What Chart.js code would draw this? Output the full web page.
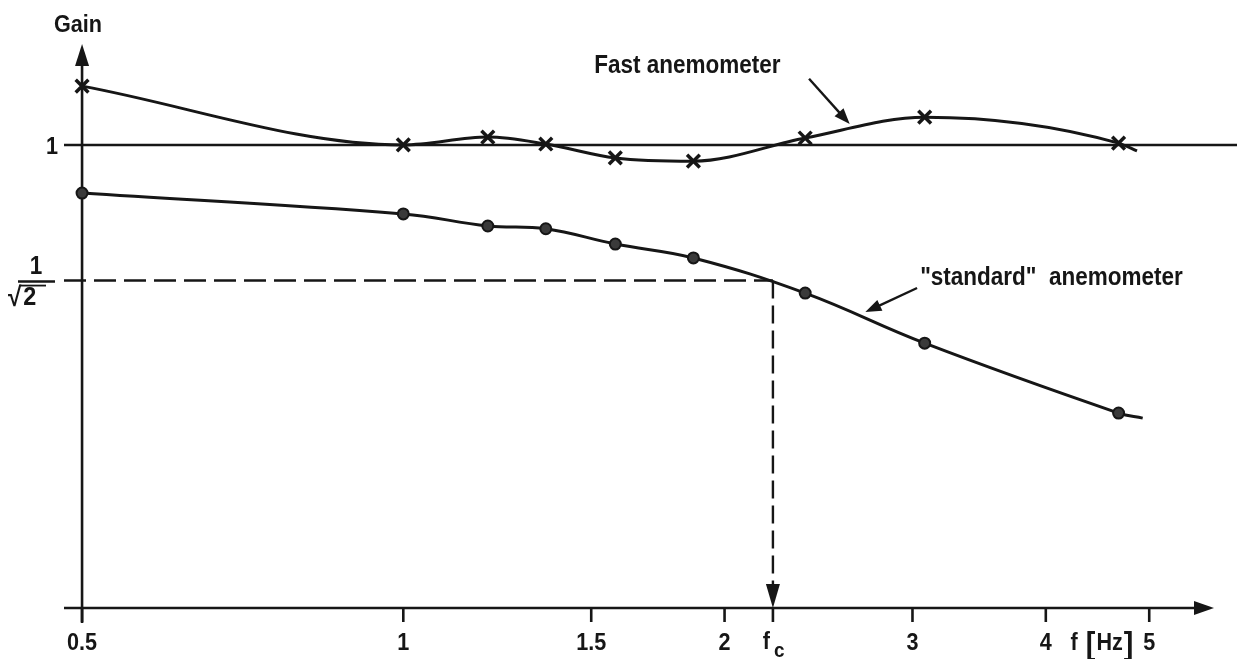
<!DOCTYPE html>
<html>
<head>
<meta charset="utf-8">
<title>Gain vs frequency of two anemometers</title>
<script src="https://cdn.jsdelivr.net/npm/chart.js@4.4.1/dist/chart.umd.min.js"></script>
<style>
  html, body { margin: 0; padding: 0; background: #fff; }
  #wrap { width: 1237px; height: 659px; }
</style>
</head>
<body>
<div id="wrap"><canvas id="gainChart" width="1237" height="659"></canvas></div>
<script>
// measured frequencies (Hz) - both instruments tested at the same points
var freqHz = [0.5, 1.0, 1.2, 1.36, 1.58, 1.87, 2.38, 3.08, 4.68];
var fastGain = [1.127, 1.0, 1.017, 1.002, 0.972, 0.965, 1.015, 1.06, 1.004];
var standardGain = [0.896, 0.851, 0.825, 0.819, 0.786, 0.756, 0.68, 0.572, 0.421];
// hand drawn curves run a little past the last measured point
var fastTail = { x: 4.87, y: 0.987 };
var standardTail = { x: 4.93, y: 0.41 };

// axis ticks
var xTicks = [0.5, 1, 1.5, 2, 3, 4, 5];
var xTickLabels = ['0.5', '1', '1.5', '2', '3', '4', '5'];
var cutoffHz = 2.22;          // f_c
var refGain = 1 / Math.sqrt(2);

var ink = '#161616';
var font = '"Liberation Sans", Arial, sans-serif';

function buildPoints(gains, tail) {
    var pts = freqHz.map(function (f, i) { return { x: f, y: gains[i] }; });
    pts.push(tail);
    return pts;
}

//Draw text a bit condensed, like the original lettering
function say(ctx, text, x, y, size, align) {
    ctx.font = 'bold ' + size + 'px ' + font;
    ctx.textAlign = align || 'left';
    ctx.textBaseline = 'alphabetic';
    var w = ctx.measureText(text).width * 0.9;
    ctx.fillText(text, x, y, w);
    return w;
}

function line(ctx, x1, y1, x2, y2) {
    ctx.beginPath();
    ctx.moveTo(x1, y1);
    ctx.lineTo(x2, y2);
    ctx.stroke();
}

//Filled arrow head with its tip at (tx, ty) pointing along angle a
function arrowHead(ctx, tx, ty, a, len, half) {
    ctx.beginPath();
    ctx.moveTo(tx, ty);
    ctx.lineTo(tx - len * Math.cos(a) + half * Math.sin(a), ty - len * Math.sin(a) - half * Math.cos(a));
    ctx.lineTo(tx - len * Math.cos(a) - half * Math.sin(a), ty - len * Math.sin(a) + half * Math.cos(a));
    ctx.closePath();
    ctx.fill();
}

// labels with pointer arrows, placed in data units (Hz, gain)
var notes = [
    { text: 'Fast anemometer', f: 1.51, g: 1.156, from: [2.40, 1.143], to: [2.62, 1.045] },
    { text: '"standard"  anemometer', f: 3.05, g: 0.698, from: [3.03, 0.691], to: [2.71, 0.639] }
];

const figurePlugin = {
    id: 'figure',
    beforeDatasetsDraw(chart) {
        const ctx = chart.ctx;
        const x = chart.scales.x, y = chart.scales.y;
        const x0 = x.getPixelForValue(freqHz[0]);
        const y0 = y.getPixelForValue(0);
        const y1 = y.getPixelForValue(1);
        const yr = y.getPixelForValue(refGain);
        const xc = x.getPixelForValue(cutoffHz);
        ctx.save();
        ctx.strokeStyle = ink;
        ctx.fillStyle = ink;
        ctx.lineWidth = 2.6;
        ctx.lineCap = 'butt';
        // axes
        line(ctx, x.left, y0, x.right - 10, y0);
        arrowHead(ctx, x.right, y0, 0, 20, 7);
        line(ctx, x0, y0 + 15, x0, y.top + 10);
        arrowHead(ctx, x0, y.top, -Math.PI / 2, 22, 7);
        // tick marks
        xTicks.concat([cutoffHz]).forEach(function (v) {
            var px = x.getPixelForValue(v);
            line(ctx, px, y0, px, y0 + 14);
        });
        // gain = 1 line
        ctx.lineWidth = 2.4;
        line(ctx, x.left, y1, chart.width, y1);
        // 1/sqrt(2) and cut-off frequency
        ctx.setLineDash([22, 8]);
        line(ctx, x.left, yr, xc, yr);
        ctx.setLineDash([18, 7]);
        line(ctx, xc, yr, xc, y0 - 22);
        ctx.setLineDash([]);
        arrowHead(ctx, xc, y0, Math.PI / 2, 24, 7);
        ctx.restore();
    },
    afterDatasetsDraw(chart) {
        const ctx = chart.ctx;
        const x = chart.scales.x, y = chart.scales.y;
        const x0 = x.getPixelForValue(freqHz[0]);
        const y0 = y.getPixelForValue(0);
        const yr = y.getPixelForValue(refGain);
        const xc = x.getPixelForValue(cutoffHz);
        ctx.save();
        ctx.fillStyle = ink;
        ctx.strokeStyle = ink;
        // x tick labels
        xTicks.forEach(function (v, i) {
            say(ctx, xTickLabels[i], x.getPixelForValue(v), y0 + 42, 24, 'center');
        });
        say(ctx, 'f', xc - 3, y0 + 41, 24, 'right');
        say(ctx, 'c', xc + 1, y0 + 49, 21, 'left');
        // axis units
        var ux = x.getPixelForValue(4.22);
        ux += say(ctx, 'f', ux, y0 + 42, 24, 'left') + 8;
        ux += say(ctx, '[', ux, y0 + 46, 32, 'left') + 1;
        ux += say(ctx, 'Hz', ux, y0 + 42, 24, 'left') + 1;
        say(ctx, ']', ux, y0 + 46, 32, 'left');
        // y axis labels
        say(ctx, 'Gain', x0 - 4, 32, 24, 'center');
        say(ctx, '1', x0 - 24, y.getPixelForValue(1) + 9, 24, 'right');
        say(ctx, '1', 36, yr - 7, 25, 'center');
        ctx.lineWidth = 2.4;
        line(ctx, 18, yr + 1, 55, yr + 1);
        var rw = say(ctx, '\u221A', 8, yr + 25, 27, 'left');
        say(ctx, '2', 10 + rw, yr + 24, 26, 'left');
        ctx.lineWidth = 1.8;
        line(ctx, 6 + rw, yr + 5, 46, yr + 5);
        // notes with arrows
        ctx.lineWidth = 2.4;
        notes.forEach(function (n) {
            say(ctx, n.text, x.getPixelForValue(n.f), y.getPixelForValue(n.g), 25, 'left');
            var ax = x.getPixelForValue(n.from[0]), ay = y.getPixelForValue(n.from[1]);
            var bx = x.getPixelForValue(n.to[0]), by = y.getPixelForValue(n.to[1]);
            var a = Math.atan2(by - ay, bx - ax);
            line(ctx, ax, ay, bx - 10 * Math.cos(a), by - 10 * Math.sin(a));
            arrowHead(ctx, bx, by, a, 16, 6);
        });
        ctx.restore();
    }
};

const ctx = document.getElementById('gainChart');
const gainChart = new Chart(ctx, {
    type: 'line',
    data: {
        datasets: [{
            label: 'Fast anemometer',
            data: buildPoints(fastGain, fastTail),
            borderColor: ink,
            borderWidth: 3,
            cubicInterpolationMode: 'monotone',
            pointStyle: 'crossRot',
            pointRadius: function (c) { return c.dataIndex < freqHz.length ? 9 : 0; },
            pointBorderWidth: 3.5,
            pointBorderColor: ink,
            fill: false
        }, {
            label: '"standard" anemometer',
            data: buildPoints(standardGain, standardTail),
            borderColor: ink,
            borderWidth: 3,
            tension: 0.4,
            pointStyle: 'circle',
            pointRadius: function (c) { return c.dataIndex < freqHz.length ? 5.5 : 0; },
            pointBackgroundColor: '#3a3a3a',
            pointBorderColor: ink,
            pointBorderWidth: 2,
            fill: false
        }]
    },
    options: {
        responsive: false,
        animation: false,
        devicePixelRatio: 1,
        layout: {
            padding: { left: 64, right: 23, top: 44, bottom: 51 }
        },
        plugins: {
            legend: { display: false },
            tooltip: { enabled: false }
        },
        scales: {
            x: {
                type: 'logarithmic',
                min: 0.4809,
                max: 5.75,
                display: false
            },
            y: {
                type: 'linear',
                min: 0,
                max: 1.218,
                display: false
            }
        }
    },
    plugins: [figurePlugin]
});
</script>
</body>
</html>
